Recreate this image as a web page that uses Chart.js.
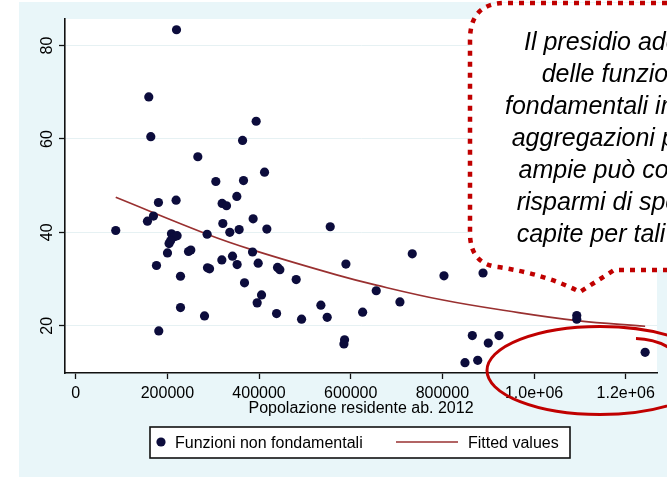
<!DOCTYPE html>
<html>
<head>
<meta charset="utf-8">
<script src="https://cdn.jsdelivr.net/npm/chart.js@4.4.1/dist/chart.umd.min.js"></script>
<style>
  html, body { margin: 0; padding: 0; background: #fff; }
  canvas { display: block; }
</style>
</head>
<body>
<canvas id="chartPop" width="667" height="477"></canvas>
<script>
// values
const popX = [219900, 159400, 163800, 266400, 393700, 364000, 305700, 366100, 412000, 351500,
  319400, 329000, 180500, 219000, 156500, 169600, 87300, 208900, 216200, 221200,
  286700, 321000, 336200, 356600, 387100, 417000, 555300, 203700, 207000, 200200,
  176200, 246100, 251100, 228600, 228600, 181200, 281000, 287500, 292000, 318800,
  342100, 352200, 368300, 385800, 398100, 405400, 395900, 438200, 440300, 445400,
  481000, 492800, 534900, 548700, 589500, 586600, 585200, 626000, 655700, 707400,
  734300, 803500, 888700, 865300, 900200, 923600, 849300, 877100, 1093200, 1093200,
  1242400];
const funzY = [83.4, 69.0, 60.5, 56.2, 63.8, 59.7, 50.9, 51.1, 52.9, 47.7,
  46.2, 45.7, 46.4, 46.9, 42.4, 43.5, 40.4, 39.7, 39.1, 39.3,
  39.6, 41.9, 40.0, 40.6, 42.9, 40.7, 41.2, 37.6, 38.2, 35.6,
  32.9, 35.9, 36.2, 30.6, 23.9, 18.9, 22.1, 32.4, 32.2, 34.1,
  34.9, 33.1, 29.2, 35.8, 33.4, 26.6, 24.9, 22.6, 32.5, 32.0,
  29.9, 21.4, 24.4, 21.8, 33.2, 17.0, 16.1, 22.9, 27.5, 25.1,
  35.4, 30.7, 31.3, 17.9, 16.3, 17.9, 12.1, 12.6, 22.2, 21.4,
  14.3];
const fitX = [87300, 286700, 387100, 569200, 655700, 801300, 940400, 1093200, 1242400];
const fitY = [47.5, 39.6, 36.2, 30.9, 28.7, 25.5, 23.2, 21.1, 19.9];

const xTicks = [0, 200000, 400000, 600000, 800000, 1000000, 1200000];
const xTickLabels = ['0', '200000', '400000', '600000', '800000', '1.0e+06', '1.2e+06'];
const yTicks = [20, 40, 60, 80];

const seriesNames = ['Funzioni non fondamentali', 'Fitted values'];
const xTitle = 'Popolazione residente ab. 2012';
const noteLines = ['Il presidio adeguato', 'delle funzioni', 'fondamentali in', 'aggregazioni più',
  'ampie può consentire', 'risparmi di spesa', 'capite per tali'];

const navy = '#0c0c3c';
const maroon = '#993030';
const bluish = '#e9f6f9';
const noteRed = '#c00000';
const font = '"Liberation Sans", Arial, sans-serif';

const noteX = [524, 541.7, 505, 511.7, 518.5, 516.7, 516.7];

const decor = {
  id: 'decor',
  beforeDraw(chart) {
    const {ctx, chartArea: a} = chart;
    ctx.save();
    ctx.fillStyle = '#fff';
    ctx.fillRect(0, 0, chart.width, chart.height);
    ctx.fillStyle = bluish;
    ctx.fillRect(19, 2, chart.width - 19, chart.height - 2);
    ctx.fillStyle = '#fff';
    ctx.fillRect(a.left, a.top, a.right - a.left, a.bottom - a.top);
    ctx.restore();
  },
  afterDraw(chart) {
    const ctx = chart.ctx;
    const xs = chart.scales.x, ys = chart.scales.y;
    ctx.save();
    ctx.fillStyle = '#000';
    ctx.font = '16px ' + font;

    // y tick labels, rotated like Stata
    ys.ticks.forEach(t => {
      ctx.save();
      ctx.translate(52, ys.getPixelForValue(t.value));
      ctx.rotate(-Math.PI / 2);
      ctx.textAlign = 'center';
      ctx.textBaseline = 'alphabetic';
      ctx.fillText(String(t.value), 0, 0);
      ctx.restore();
    });

    // x tick labels
    ctx.textAlign = 'center';
    ctx.textBaseline = 'alphabetic';
    xs.ticks.forEach((t, i) => {
      ctx.fillText(xTickLabels[i], xs.getPixelForValue(t.value), 398);
    });
    ctx.fillText(xTitle, (xs.left + xs.right) / 2, 413);

    // legend
    ctx.fillStyle = '#fff';
    ctx.fillRect(150, 427, 420, 31);
    ctx.strokeStyle = '#111';
    ctx.lineWidth = 1.6;
    ctx.strokeRect(150, 427, 420, 31);
    ctx.fillStyle = navy;
    ctx.beginPath();
    ctx.arc(161, 442, 4.6, 0, Math.PI * 2);
    ctx.fill();
    ctx.strokeStyle = maroon;
    ctx.lineWidth = 1.6;
    ctx.beginPath();
    ctx.moveTo(396, 442);
    ctx.lineTo(458, 442);
    ctx.stroke();
    ctx.fillStyle = '#000';
    ctx.textAlign = 'left';
    ctx.fillText(seriesNames[0], 175, 448);
    ctx.fillText(seriesNames[1], 468, 448);

    // callout bubble
    ctx.beginPath();
    ctx.moveTo(700, 3);
    ctx.lineTo(505, 3);
    ctx.quadraticCurveTo(470, 3, 470, 40);
    ctx.lineTo(470, 235);
    ctx.quadraticCurveTo(471, 264, 498, 267);
    ctx.quadraticCurveTo(545, 274, 580, 292);
    ctx.lineTo(614, 270);
    ctx.lineTo(700, 270);
    ctx.closePath();
    ctx.fillStyle = '#fff';
    ctx.fill();
    ctx.setLineDash([5, 6]);
    ctx.lineWidth = 4.5;
    ctx.strokeStyle = noteRed;
    ctx.stroke();
    ctx.setLineDash([]);

    ctx.fillStyle = '#000';
    ctx.font = 'italic 25px ' + font;
    ctx.textAlign = 'left';
    noteLines.forEach((s, i) => ctx.fillText(s, noteX[i], 50 + 32 * i));

    // hand drawn ellipse
    ctx.strokeStyle = noteRed;
    ctx.lineWidth = 3;
    ctx.beginPath();
    ctx.ellipse(600, 370.5, 113, 44, 0, 0, Math.PI * 2);
    ctx.stroke();
    ctx.beginPath();
    ctx.moveTo(636, 338.5);
    ctx.quadraticCurveTo(654, 339, 668, 347);
    ctx.stroke();
    ctx.restore();
  }
};

new Chart(document.getElementById('chartPop'), {
  type: 'scatter',
  data: {
    datasets: [
      {
        label: seriesNames[0],
        data: popX.map((x, i) => ({x, y: funzY[i]})),
        backgroundColor: navy,
        borderColor: navy,
        pointRadius: 4.6,
        pointBorderWidth: 0,
        order: 0
      },
      {
        label: seriesNames[1],
        data: fitX.map((x, i) => ({x, y: fitY[i]})),
        showLine: true,
        borderColor: maroon,
        borderWidth: 1.6,
        pointRadius: 0,
        tension: 0.4,
        order: 1
      }
    ]
  },
  options: {
    responsive: false,
    animation: false,
    devicePixelRatio: 1,
    layout: { padding: { left: 0, right: 10, top: 19, bottom: 0 } },
    plugins: { legend: { display: false }, tooltip: { enabled: false } },
    scales: {
      x: {
        type: 'linear', min: -23400, max: 1268300,
        afterBuildTicks: s => { s.ticks = xTicks.map(v => ({value: v})); },
        afterFit: s => { s.height = 104; },
        ticks: { display: false },
        grid: { drawOnChartArea: false, tickLength: 6, tickColor: '#111', tickWidth: 1.3 },
        border: { color: '#111', width: 1.6 }
      },
      y: {
        min: 9.88, max: 85.7,
        afterBuildTicks: s => { s.ticks = yTicks.map(v => ({value: v})); },
        afterFit: s => { s.width = 65; },
        ticks: { display: false },
        grid: { color: '#e6f1f3', tickLength: 6, tickColor: '#111', tickWidth: 1.3 },
        border: { color: '#111', width: 1.6 }
      }
    }
  },
  plugins: [decor]
});
</script>
</body>
</html>
